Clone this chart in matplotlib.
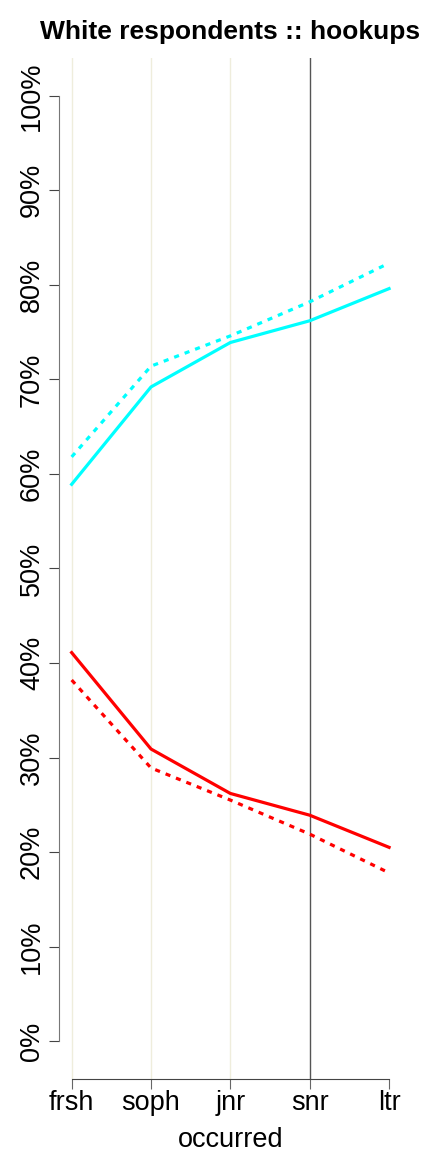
import numpy as np
import matplotlib
matplotlib.use('Agg')
import matplotlib.pyplot as plt
from matplotlib.ticker import FuncFormatter

plt.rcParams['font.family'] = ['Liberation Sans', 'DejaVu Sans']

# data (percent)
years       = ['frsh', 'soph', 'jnr', 'snr', 'ltr']
cyan_solid  = [58.9, 69.2, 73.9, 76.2, 79.6]
cyan_dashed = [61.8, 71.4, 74.6, 78.2, 82.3]
red_solid   = [41.1, 30.9, 26.2, 23.9, 20.5]
red_dashed  = [38.2, 28.9, 25.5, 21.9, 17.8]
y_ticks     = [0, 10, 20, 30, 40, 50, 60, 70, 80, 90, 100]

x = np.arange(len(years))

fig = plt.figure(figsize=(4.32, 11.52), dpi=100)
ax = fig.add_axes([0.1365, 0.0634, 0.93 - 0.1365, 0.9497 - 0.0634])

ax.set_xlim(-0.16, 4.16)
ax.set_ylim(-4, 104)

# vertical reference lines
for i in range(3):
    ax.axvline(x[i], color='#EFEDDC', lw=1.0, zorder=1)
ax.axvline(x[3], color='#555555', lw=1.0, zorder=1)

ax.plot(x, cyan_dashed, color='#00FFFF', lw=2.3, dashes=(1.6, 1.9), zorder=3)
ax.plot(x, cyan_solid,  color='#00FFFF', lw=2.3, zorder=3)
ax.plot(x, red_dashed,  color='#FF0000', lw=2.3, dashes=(1.6, 1.9), zorder=3)
ax.plot(x, red_solid,   color='#FF0000', lw=2.3, zorder=3)

for s in ['top', 'right']:
    ax.spines[s].set_visible(False)
ax.spines['left'].set_bounds(0, 100)
ax.spines['left'].set_color('#777777')
ax.spines['bottom'].set_bounds(0, 4)
ax.spines['bottom'].set_color('#444444')

ax.set_yticks(y_ticks)
ax.yaxis.set_major_formatter(FuncFormatter(lambda v, p: '{0}%'.format(int(v))))
ax.set_xticks(x)
ax.set_xticklabels(years)

ax.tick_params(axis='y', length=7, width=0.8, color='#444444', labelsize=19.5, pad=3)
ax.tick_params(axis='x', length=7, width=0.8, color='#666666', labelsize=19.5, pad=1)
for lab in ax.get_yticklabels():
    lab.set_rotation(90)
    lab.set_va('center')

ax.set_xlabel('occurred', fontsize=19.5, labelpad=8)
fig.text(0.532, 0.972, 'White respondents :: hookups', fontsize=19,
         fontweight='bold', ha='center', va='center')

fig.savefig('out.png', dpi=100)
